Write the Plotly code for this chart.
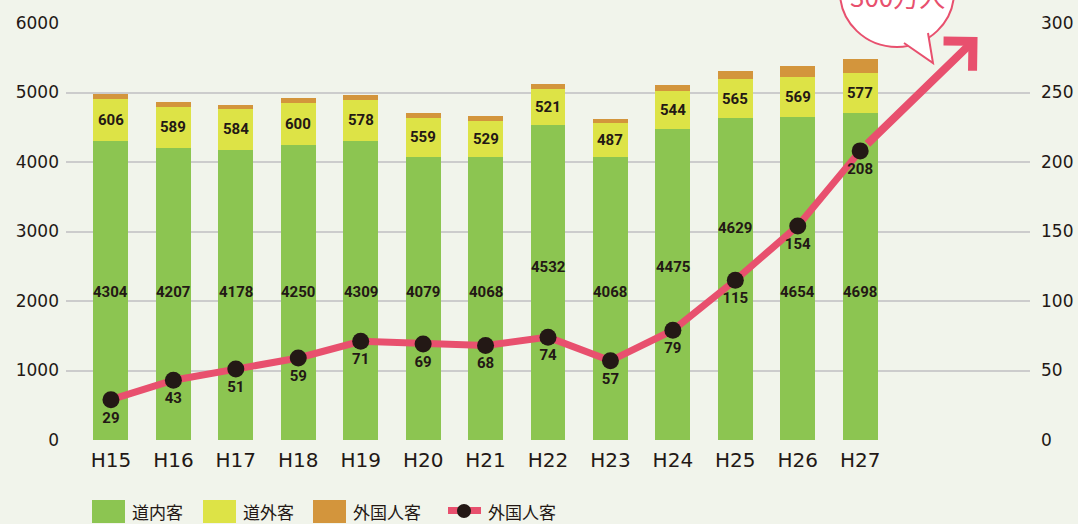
import plotly.graph_objects as go

categories = ["H15", "H16", "H17", "H18", "H19", "H20", "H21", "H22", "H23", "H24", "H25", "H26", "H27"]
domestic_in = [4304, 4207, 4178, 4250, 4309, 4079, 4068, 4532, 4068, 4475, 4629, 4654, 4698]
domestic_out = [606, 589, 584, 600, 578, 559, 529, 521, 487, 544, 565, 569, 577]
foreign_bar = [70, 70, 60, 70, 70, 70, 70, 70, 60, 85, 115, 155, 205]
foreign_line = [29, 43, 51, 59, 71, 69, 68, 74, 57, 79, 115, 154, 208]
green_label_y = [2130, 2130, 2130, 2130, 2130, 2130, 2130, 2490, 2130, 2490, 3050, 2130, 2130]
left_ticks = [0, 1000, 2000, 3000, 4000, 5000, 6000]
right_ticks = [0, 50, 100, 150, 200, 250, 300]
legend_labels = ["道内客", "道外客", "外国人客", "外国人客"]
callout_text = "300万人"
arrow_target = (13.88, 290)

GREEN = "#8cc551"
YELLOW = "#dde346"
ORANGE = "#d3953c"
PINK = "#e8506e"
DARK = "#231815"
BG = "#f1f4eb"

W, H = 1078, 524
ML, MR, MT, MB = 66, 48, 23, 84
PW, PH = W - ML - MR, H - MT - MB


def px(x):
    return (x - ML) / PW


def py(y):
    return (H - MB - y) / PH


xs = list(range(len(categories)))
num_font = dict(family="Roboto, sans-serif", size=15, color=DARK, weight="bold")

fig = go.Figure()
fig.add_trace(go.Bar(x=xs, y=domestic_in, marker=dict(color=GREEN, line=dict(width=0)), width=0.56, name=legend_labels[0], showlegend=False))
fig.add_trace(go.Bar(x=xs, y=domestic_out, marker=dict(color=YELLOW, line=dict(width=0)), width=0.56, name=legend_labels[1], showlegend=False))
fig.add_trace(go.Bar(x=xs, y=foreign_bar, marker=dict(color=ORANGE, line=dict(width=0)), width=0.56, name=legend_labels[2], showlegend=False))
fig.add_trace(go.Scatter(
    x=xs, y=foreign_line, yaxis="y2", mode="lines+markers+text",
    line=dict(color=PINK, width=7),
    marker=dict(color=DARK, size=17),
    text=[str(v) for v in foreign_line], textposition="bottom center",
    textfont=num_font,
    name=legend_labels[3], showlegend=False, cliponaxis=False,
))

annotations = []
for i in xs:
    annotations.append(dict(x=i, y=green_label_y[i], xref="x", yref="y", text=str(domestic_in[i]),
                            showarrow=False, font=num_font))
    annotations.append(dict(x=i, y=domestic_in[i] + domestic_out[i] / 2, xref="x", yref="y",
                            text=str(domestic_out[i]), showarrow=False, font=num_font))

# big arrow
annotations.append(dict(x=arrow_target[0], y=arrow_target[1], xref="x", yref="y2",
                        ax=xs[-1], ay=foreign_line[-1], axref="x", ayref="y2",
                        text="", showarrow=True, arrowhead=4, arrowsize=1, arrowwidth=8,
                        arrowcolor=PINK, startstandoff=8))

shapes = []
# callout bubble
shapes.append(dict(type="circle", xref="paper", yref="paper",
                   x0=px(840), x1=px(954), y0=py(47), y1=py(-63),
                   fillcolor="white", line=dict(color=PINK, width=2), layer="above"))
shapes.append(dict(type="path", xref="paper", yref="paper",
                   path=f"M {px(904)} {py(43)} L {px(933)} {py(63)} L {px(928)} {py(33)}",
                   fillcolor="white", line=dict(color=PINK, width=2), layer="above"))
annotations.append(dict(x=px(897), y=py(-4), xref="paper", yref="paper", text=callout_text,
                        showarrow=False, font=dict(family="Noto Sans CJK JP", size=26, color=PINK),
                        yanchor="middle", xanchor="center"))

# custom legend
legend_y0, legend_y1 = 500, 523
legend_ymid = 511
leg_font = dict(family="Noto Sans CJK JP", size=17, color=DARK)
for (x0, color, tx, lab) in [(92, GREEN, 130, legend_labels[0]), (203, YELLOW, 241, legend_labels[1]),
                             (313, ORANGE, 351, legend_labels[2])]:
    shapes.append(dict(type="rect", xref="paper", yref="paper", x0=px(x0), x1=px(x0 + 33),
                       y0=py(legend_y1), y1=py(legend_y0), fillcolor=color, line=dict(width=0)))
    annotations.append(dict(x=px(tx), y=py(legend_ymid), xref="paper", yref="paper", text=lab,
                            showarrow=False, xanchor="left", yanchor="middle", font=leg_font))
shapes.append(dict(type="rect", xref="paper", yref="paper", x0=px(448), x1=px(481),
                   y0=py(514), y1=py(507), fillcolor=PINK, line=dict(width=0)))
shapes.append(dict(type="circle", xref="paper", yref="paper", x0=px(457), x1=px(471),
                   y0=py(518), y1=py(504), fillcolor=DARK, line=dict(width=0)))
annotations.append(dict(x=px(486), y=py(legend_ymid), xref="paper", yref="paper", text=legend_labels[3],
                        showarrow=False, xanchor="left", yanchor="middle", font=leg_font))

tick_font = dict(family="DejaVu Sans", size=17, color=DARK)
xtick_font = dict(family="DejaVu Sans", size=20, color=DARK)
fig.update_layout(
    width=W, height=H,
    margin=dict(l=ML, r=MR, t=MT, b=MB),
    barmode="stack", bargap=0.44,
    paper_bgcolor=BG, plot_bgcolor=BG,
    showlegend=False,
    xaxis=dict(range=[-0.72, 14.72], tickvals=xs, ticktext=categories, showgrid=False,
               zeroline=False, showline=False, ticks="", tickfont=xtick_font, ticklabelstandoff=6,
               automargin=False),
    yaxis=dict(range=[0, 6000], tickvals=left_ticks, showgrid=True, gridcolor="#cccccc", gridwidth=2,
               zeroline=False, showline=False, ticks="", tickfont=tick_font, ticklabelstandoff=6,
               automargin=False),
    yaxis2=dict(range=[0, 300], tickvals=right_ticks, overlaying="y", side="right", showgrid=False,
                zeroline=False, showline=False, ticks="", tickfont=tick_font, ticklabelstandoff=10,
                automargin=False),
    annotations=annotations,
    shapes=shapes,
)

fig.write_html("out.html", config={"displayModeBar": False},
               post_script="document.body.style.margin='0';document.body.style.padding='0';")
